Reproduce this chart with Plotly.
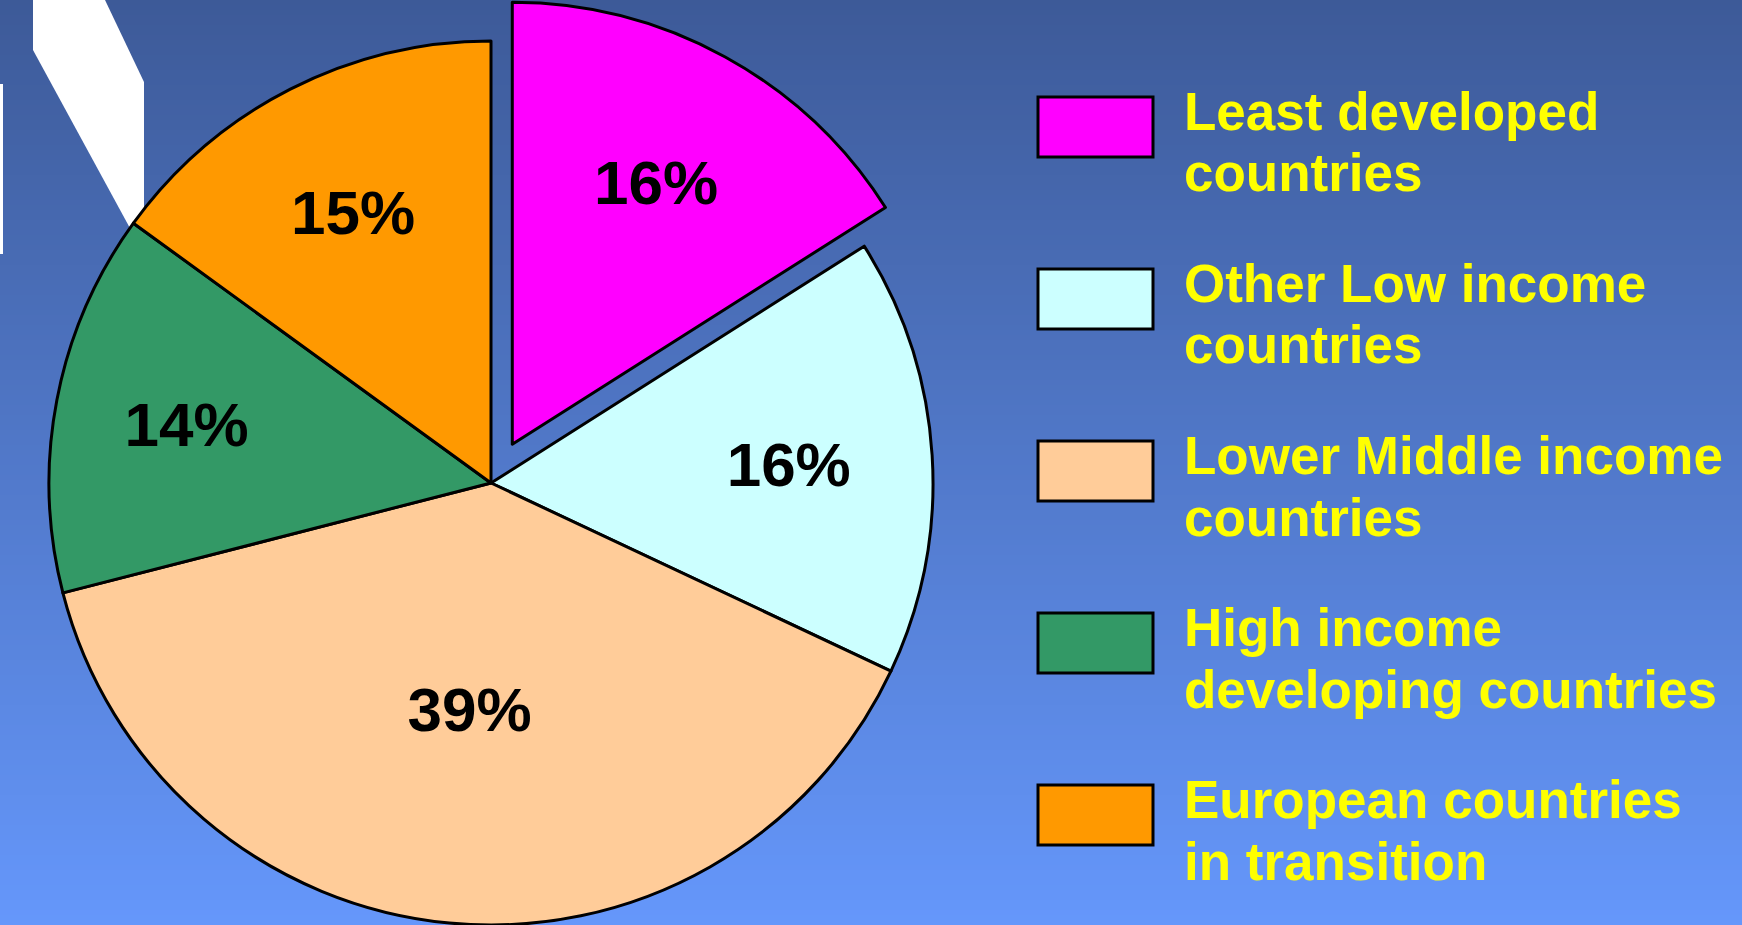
import math
import plotly.graph_objects as go

# ---- data ----
categories = [
    "Least developed countries",
    "Other Low income countries",
    "Lower Middle income countries",
    "High income developing countries",
    "European countries in transition",
]
legend_lines = [
    ["Least developed", "countries"],
    ["Other Low income", "countries"],
    ["Lower Middle income", "countries"],
    ["High income", "developing countries"],
    ["European countries", "in transition"],
]
shares = [16, 16, 39, 14, 15]
colors = ["#FF00FF", "#CCFFFF", "#FFCC99", "#339966", "#FF9900"]
pulls = [0.1, 0, 0, 0, 0]

W, H = 1742, 925
FONT = "Liberation Sans, Arial, sans-serif"
TRANSPARENT = "rgba(0,0,0,0)"
LW = 3

# pie geometry (pixels)
CX, CY, R = 491, 483, 442


def dom(cx, cy, r):
    y0 = max(0.0, 1 - (cy + r) / H)
    y1 = min(1.0, 1 - (cy - r) / H)
    return dict(x=[(cx - r) / W, (cx + r) / W], y=[y0, y1])


total = sum(shares)
fig = go.Figure()

# slices that sit in place
base = [p == 0 for p in pulls]
fig.add_trace(go.Pie(
    labels=categories, values=shares, sort=False, direction="clockwise", rotation=0,
    marker=dict(colors=[c if b else TRANSPARENT for c, b in zip(colors, base)],
                line=dict(color="black", width=[LW if b else 0 for b in base])),
    texttemplate=["%{percent}" if b else "" for b in base],
    textposition="inside", insidetextorientation="horizontal",
    textfont=dict(family=FONT, size=62, color="black", weight="bold"),
    domain=dom(CX, CY, R), showlegend=False, hoverinfo="label+percent",
))

# pulled-out slices: same pie, moved along each slice's bisector
cum = 0
for i, (v, p) in enumerate(zip(shares, pulls)):
    mid = cum + v / 2
    cum += v
    if p == 0:
        continue
    ang = math.pi / 2 - 2 * math.pi * mid / total  # clockwise from 12 o'clock
    dx, dy = p * R * math.cos(ang), -p * R * math.sin(ang)
    sel = [j == i for j in range(len(shares))]
    fig.add_trace(go.Pie(
        labels=categories, values=shares, sort=False, direction="clockwise", rotation=0,
        marker=dict(colors=[c if s else TRANSPARENT for c, s in zip(colors, sel)],
                    line=dict(color="black", width=[LW if s else 0 for s in sel])),
        texttemplate=["%{percent}" if s else "" for s in sel],
        textposition="inside", insidetextorientation="horizontal",
        textfont=dict(family=FONT, size=62, color="black", weight="bold"),
        domain=dom(CX + dx, CY + dy, R), showlegend=False, hoverinfo="label+percent",
    ))

shapes = []
# vertical gradient background
N = 185
top = (61, 90, 152)
bot = (101, 151, 251)
for i in range(N):
    t = i / (N - 1)
    c = tuple(round(top[k] + (bot[k] - top[k]) * t) for k in range(3))
    shapes.append(dict(type="rect", xref="paper", yref="paper", x0=0, x1=1,
                       y0=1 - (i + 1.6) / N, y1=1 - i / N,
                       fillcolor="rgb(%d,%d,%d)" % c, line=dict(width=0), layer="below"))


def px(x, y):
    return x / W, 1 - y / H


# white slide decorations (top-left)
pts = [(33, 0), (105, 0), (144, 82), (144, 230), (131, 230), (33, 50)]
path = "M " + " L ".join("%.5f,%.5f" % px(x, y) for x, y in pts) + " Z"
shapes.append(dict(type="path", xref="paper", yref="paper", path=path,
                   fillcolor="white", line=dict(width=0), layer="below"))
x0, y1 = px(0, 84)
x1, y0 = px(3, 254)
shapes.append(dict(type="rect", xref="paper", yref="paper", x0=x0, x1=x1, y0=y0, y1=y1,
                   fillcolor="white", line=dict(width=0), layer="below"))

# custom legend
annotations = []
STEP = 172
PITCH = 62
for i, (lines, col) in enumerate(zip(legend_lines, colors)):
    bx0, by1 = px(1038, 97 + STEP * i)
    bx1, by0 = px(1153, 157 + STEP * i)
    shapes.append(dict(type="rect", xref="paper", yref="paper", x0=bx0, x1=bx1, y0=by0, y1=by1,
                       fillcolor=col, line=dict(color="black", width=3), layer="above"))
    for k, line in enumerate(lines):
        tx, ty = px(1182, 111 + STEP * i + PITCH * k)
        annotations.append(dict(xref="paper", yref="paper", x=tx, y=ty, xanchor="left", yanchor="middle",
                                text=line, showarrow=False, align="left",
                                font=dict(family=FONT, size=53, color="#FFFF00", weight="bold")))

fig.update_layout(
    width=W, height=H,
    margin=dict(l=0, r=0, t=0, b=0),
    paper_bgcolor="rgb(80,120,200)",
    plot_bgcolor="rgba(0,0,0,0)",
    shapes=shapes,
    annotations=annotations,
)

fig.write_html("out.html", config={"displayModeBar": False},
               post_script="document.body.style.margin='0px';document.body.style.overflow='hidden';")
